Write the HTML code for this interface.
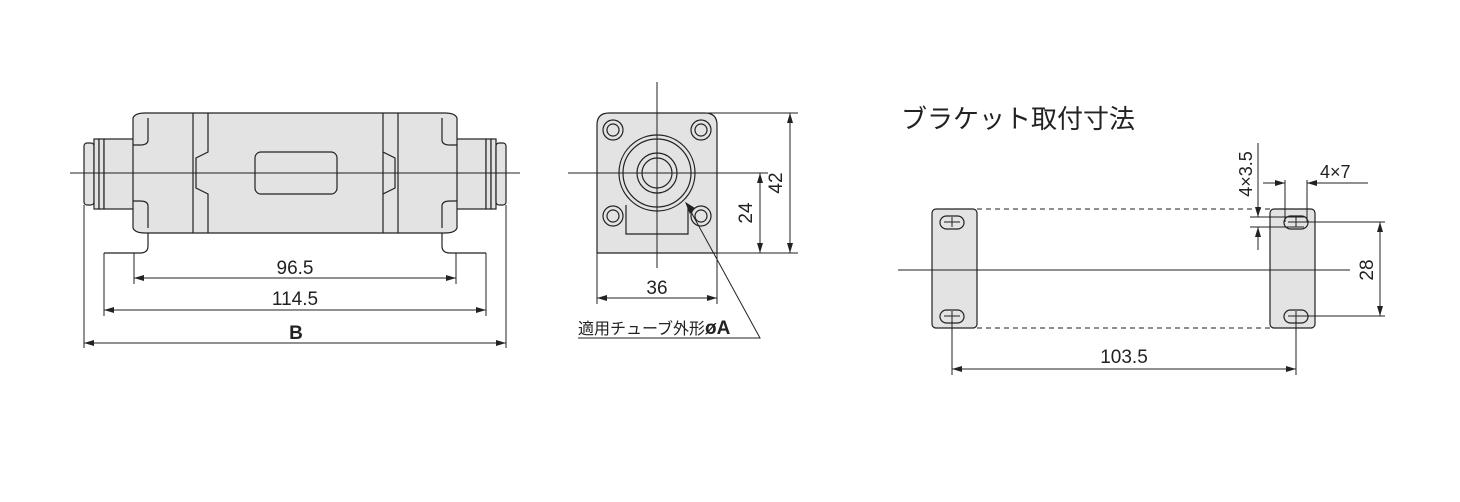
<!DOCTYPE html>
<html><head><meta charset="utf-8"><style>body{margin:0;background:#fff}svg{display:block}text{font-family:"Liberation Sans","Noto Sans CJK JP",sans-serif;fill:#222}</style></head><body>
<svg width="1460" height="502" viewBox="0 0 1460 502" xmlns="http://www.w3.org/2000/svg">
<defs>
<marker id="a" viewBox="0 0 10 6" refX="10" refY="3" markerWidth="10" markerHeight="6" markerUnits="userSpaceOnUse" orient="auto"><path d="M0,0L10,3L0,6z" fill="#222"/></marker>
</defs>
<g stroke="#222" stroke-width="1.2" fill="#e3e3e3">
<rect x="84" y="143" width="10" height="62" rx="3"/>
<rect x="94" y="139" width="5" height="70"/><rect x="99" y="139" width="5" height="70"/>
<rect x="104" y="139" width="30" height="70"/>
<rect x="456" y="139" width="30" height="70"/>
<rect x="486" y="139" width="5" height="70"/><rect x="491" y="139" width="5" height="70"/>
<rect x="496" y="143" width="10" height="62" rx="3"/>
<path d="M133,118 Q135,113 145,113 H445 Q455,113 457,118 V228 Q455,233 445,233 H145 Q135,233 133,228Z"/>
<path d="M133,145H140Q148,145 148,140V118M133,201H140Q148,201 148,206V228M457,145H450Q442,145 442,140V118M457,201H450Q442,201 442,206V228" fill="none"/>
<path d="M193,113V233M383,113V233M208,113V152L196,158V188L208,194V233M383,113V152L395,158V188L383,194V233M398,113V233" fill="none"/>
<rect x="255" y="152" width="82" height="42" rx="6"/>
<path d="M148,233V246Q148,253 140,253H104M442,233V246Q442,253 450,253H486" fill="none"/>
<path d="M597,253V125Q597,113 609,113H705Q717,113 717,125V253Z"/>
<circle cx="657" cy="173" r="38"/><circle cx="657" cy="173" r="34" fill="none"/><circle cx="657" cy="173" r="20"/><circle cx="657" cy="173" r="15" fill="none"/>
<circle cx="613" cy="130" r="10"/><circle cx="613" cy="130" r="6" fill="none"/>
<circle cx="701" cy="130" r="10"/><circle cx="701" cy="130" r="6" fill="none"/>
<circle cx="613" cy="216" r="10"/><circle cx="613" cy="216" r="6" fill="none"/>
<circle cx="701" cy="216" r="10"/><circle cx="701" cy="216" r="6" fill="none"/>
<path d="M626,205V234H688V205" fill="none"/>
<rect x="932" y="209" width="45" height="119" rx="4"/>
<rect x="1270" y="209" width="45" height="119" rx="4"/>
<rect x="940" y="216" width="24" height="13" rx="6.5" fill="none"/><rect x="940" y="310" width="24" height="13" rx="6.5" fill="none"/>
<rect x="1284" y="216" width="24" height="13" rx="6.5" fill="none"/><rect x="1284" y="310" width="24" height="13" rx="6.5" fill="none"/>
</g>
<g stroke="#222" stroke-width="1" fill="none">
<path d="M70,173H520M568,173H745M657,82V268M898,270H1350"/>
<path d="M977,209H1270M977,328H1270" stroke-dasharray="5,4"/>
<path d="M134,253V284M456,253V284M104,253V316M486,253V316M84,205V348M506,205V348"/>
<g marker-end="url(#a)">
<path d="M295,278H134"/><path d="M295,278H456"/>
<path d="M295,310H104"/><path d="M295,310H486"/>
<path d="M295,343H84"/><path d="M295,343H506"/>
<path d="M790,183V113"/><path d="M790,183V253"/>
<path d="M760,213V173"/><path d="M760,213V253"/>
<path d="M657,298H597"/><path d="M657,298H717"/>
<path d="M1380,270V222"/><path d="M1380,270V316"/>
<path d="M1124,369H952"/><path d="M1124,369H1296"/>
<path d="M1258,143V217"/><path d="M1258,250V227"/>
<path d="M1263,183H1285"/><path d="M1368,183H1307"/>
</g>
<path d="M705,113H798M717,253H798M665,173H768M597,253V304M717,253V304"/>
<path d="M578,338H760L690,210"/><path d="M686,203l8,5l-4,5z" fill="#222"/>
<path d="M1304,222H1385M1304,316H1385"/>
<path d="M952,316V375M1296,316V375"/>
<path d="M1250,217H1304M1250,227H1304"/>
<path d="M1285,180V222M1307,180V222"/>
<path d="M944,222h16M952,217v10M944,316h16M952,311v10M1288,222h16M1296,217v10M1288,316h16M1296,311v10"/>
</g>
<g font-size="19">
<text x="295" y="274" text-anchor="middle">96.5</text>
<text x="295" y="305" text-anchor="middle">114.5</text>
<text x="296" y="339" text-anchor="middle" font-weight="bold">B</text>
<text x="657" y="294" text-anchor="middle">36</text>
<text transform="translate(752,213) rotate(-90)" text-anchor="middle">24</text>
<text transform="translate(782,183) rotate(-90)" text-anchor="middle">42</text>
<text x="578" y="334" font-size="16">適用チューブ外形<tspan font-weight="bold" font-size="19">øA</tspan></text>
<text x="1320" y="178" font-size="18">4×7</text>
<text transform="translate(1252,174) rotate(-90)" text-anchor="middle" font-size="18">4×3.5</text>
<text transform="translate(1373,270) rotate(-90)" text-anchor="middle">28</text>
<text x="1124" y="363" text-anchor="middle">103.5</text>
<text x="901" y="128" font-size="26">ブラケット取付寸法</text>
</g>
</svg>
</body></html>
